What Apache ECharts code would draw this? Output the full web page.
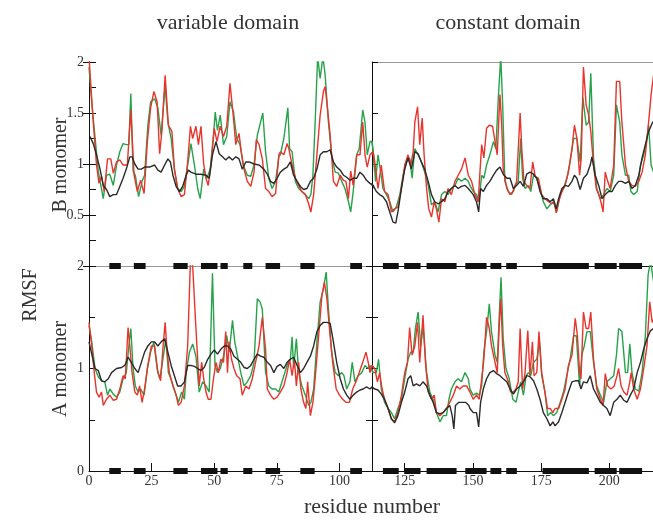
<!DOCTYPE html>
<html>
<head>
<meta charset="utf-8">
<script src="https://cdn.jsdelivr.net/npm/echarts@6/dist/echarts.min.js"></script>
<style>
  html, body { margin: 0; padding: 0; background: #fff; }
  #chart { width: 653px; height: 520px; }
</style>
</head>
<body>
<div id="chart"></div>
<script>
// RMSF per residue, [residue, value]; B monomer (top) and A monomer (bottom)
const bGreen = [
  [0,1.95],[1.1,1.6],[3.7,0.93],[5.7,0.66],[7.0,0.89],[8.3,0.90],[9.7,0.79],[11.0,0.99],[12.3,1.12],[13.6,1.20],[14.9,1.19],[15.9,1.19],
  [16.7,1.69],[17.6,0.93],[18.5,0.89],[19.8,0.68],[21.2,0.83],[22.2,0.89],[23.5,1.38],[24.6,1.61],[26.2,1.64],[27.5,1.55],[28.8,1.28],
  [30.4,1.77],[31.5,1.41],[32.8,1.25],[34.1,0.95],[35.4,0.76],[36.8,0.73],[38.1,0.78],[39.4,0.99],[40.7,1.20],[42.1,0.99],[43.4,0.76],
  [44.4,0.66],[45.8,0.95],[47.1,0.86],[48.4,0.95],[49.7,1.28],[50.4,1.51],[51.3,1.33],[52.4,1.48],[53.7,1.19],[55.0,1.27],[56.3,1.61],
  [57.7,1.51],[59.0,1.25],[60.3,1.19],[61.6,0.99],[63.2,0.89],[64.6,0.88],[65.9,0.99],[67.2,1.28],[68.5,1.41],[69.4,1.50],[70.5,1.12],
  [71.8,0.86],[73.1,0.76],[74.5,0.83],[75.8,1.07],[76.4,1.09],[77.8,1.25],[79.4,1.55],[80.1,1.15],[81.1,1.12],[82.4,0.83],[83.7,0.76],
  [85.0,0.73],[86.4,0.70],[87.7,0.66],[88.6,0.70],[89.4,0.89],[90.3,1.41],[91.3,2.05],[92.3,1.84],[93.4,2.05],[94.3,1.87],[95.6,1.41],
  [97.0,1.06],[98.3,0.92],[99.6,0.91],[100.9,0.83],[102.2,0.76],[103.6,0.63],[104.5,0.53],[105.5,0.73],[106.9,1.09],[107.9,1.15],
  [109.3,1.53],[110.2,1.41],[111.1,1.09],[112.2,1.22],[113.0,1.22],[113.6,1.09],[114.3,0.83],[115.2,1.09],[116.2,0.92],[117.0,0.76],
  [118.3,0.70],[119.5,0.63],[120.7,0.53],[121.9,0.58],[123.2,0.70],[124.4,0.89],[125.6,1.02],[126.8,1.06],[127.7,0.86],[128.7,1.15],
  [129.9,1.09],[131.1,1.02],[132.3,0.92],[133.6,0.79],[134.8,0.60],[136.0,0.63],[137.2,0.53],[138.5,0.70],[139.7,0.73],[140.9,0.70],
  [142.1,0.76],[143.4,0.79],[144.6,0.86],[145.8,0.83],[147.1,0.86],[148.3,0.83],[148.9,0.79],[150.1,0.73],[151.3,0.70],[152.2,0.63],
  [153.2,0.89],[154.0,0.86],[155.0,0.99],[156.2,1.09],[157.5,1.22],[158.4,1.15],[159.3,1.65],[160.2,2.05],[160.9,1.58],[161.7,0.83],
  [163.0,0.73],[164.2,0.70],[165.4,0.79],[166.6,0.83],[167.5,1.25],[168.2,0.86],[169.1,0.76],[170.3,0.79],[171.2,0.73],[172.2,0.89],
  [173.4,0.86],[174.6,0.76],[175.8,0.63],[177.1,0.56],[178.3,0.60],[179.5,0.63],[180.7,0.53],[182.0,0.70],[183.2,0.76],[184.4,0.86],
  [185.6,1.02],[186.9,1.25],[188.1,1.25],[189.3,1.02],[190.3,1.65],[191.5,1.38],[192.4,1.41],[193.2,1.89],[194.2,1.06],[195.4,0.76],
  [196.7,0.66],[197.9,0.70],[199.1,0.76],[200.3,0.73],[201.6,0.89],[202.6,1.58],[203.8,1.41],[204.6,1.09],[205.9,0.89],[207.1,0.89],
  [207.9,0.73],[208.9,0.70],[210.2,0.73],[211.4,0.99],[212.6,1.09],[213.6,1.22],[214.4,1.38],[215.3,0.99],[216.2,0.92]
];
const bRed = [
  [0,2.05],[1.7,1.41],[3.0,0.99],[4.0,0.81],[5.0,0.88],[6.1,0.73],[7.4,1.05],[8.7,1.05],[9.7,0.91],[11.0,1.02],[12.3,1.04],[13.6,0.99],
  [15.3,0.99],[16.7,1.53],[18.0,0.89],[19.3,0.73],[20.6,0.84],[22.0,0.71],[23.3,1.22],[24.6,1.55],[25.9,1.71],[27.2,1.61],[28.2,1.10],
  [29.1,1.32],[30.4,1.87],[31.7,1.38],[33.1,1.32],[34.1,0.95],[35.4,0.76],[36.8,0.68],[38.1,0.70],[39.4,1.02],[40.5,1.37],[41.4,1.25],
  [42.7,1.37],[43.7,1.19],[44.7,1.37],[45.8,1.0],[46.7,0.86],[47.6,0.79],[48.7,0.99],[50.0,1.35],[51.1,1.22],[52.4,1.37],[53.7,1.27],
  [55.0,1.37],[56.3,1.79],[57.7,1.45],[58.6,1.19],[59.9,1.30],[60.8,1.12],[61.9,0.95],[63.2,0.83],[64.6,0.78],[65.9,0.92],[66.8,1.24],
  [67.9,1.19],[69.2,1.05],[70.5,0.76],[71.8,0.73],[73.1,0.68],[74.5,0.71],[75.8,1.09],[76.4,1.12],[77.8,1.09],[79.1,1.20],[79.8,1.15],
  [81.1,0.99],[82.4,0.86],[83.7,0.79],[85.0,0.73],[86.4,0.70],[87.7,0.61],[88.6,0.53],[89.7,0.70],[91.0,1.09],[92.3,1.48],[93.6,1.71],
  [94.3,1.76],[95.2,1.55],[96.3,1.28],[97.6,0.83],[98.9,0.78],[100.3,0.89],[101.6,0.84],[102.6,0.83],[103.6,0.66],[104.5,0.93],
  [105.5,0.79],[106.9,1.09],[108.2,1.09],[109.3,1.41],[110.2,1.09],[111.1,0.97],[112.2,1.09],[113.4,1.12],[114.0,1.02],[115.2,0.76],
  [116.4,0.99],[117.6,0.73],[118.9,0.70],[120.1,0.53],[121.3,0.56],[122.5,0.58],[123.8,0.76],[125.0,0.99],[126.2,1.09],[127.2,0.99],
  [128.1,1.12],[128.7,1.41],[129.7,1.56],[130.5,1.19],[131.4,1.45],[132.1,1.09],[133.0,0.76],[133.8,0.56],[134.8,0.48],[135.8,0.63],
  [136.6,0.56],[137.5,0.43],[138.5,0.66],[139.7,0.63],[140.9,0.76],[142.1,0.70],[143.4,0.83],[144.6,0.89],[145.8,0.95],[147.1,1.06],
  [148.3,0.89],[149.5,0.83],[150.7,0.70],[151.9,0.63],[153.2,1.19],[154.0,1.06],[155.0,1.35],[156.0,1.38],[157.2,1.37],[158.1,1.22],
  [158.9,1.09],[159.9,1.68],[160.5,1.41],[161.1,0.95],[162.4,0.76],[163.6,0.70],[164.8,0.73],[166.0,0.83],[167.3,1.50],[167.9,1.15],
  [168.7,0.83],[169.7,0.79],[170.9,0.76],[171.9,1.02],[172.8,0.88],[174.0,0.86],[175.2,0.70],[176.4,0.66],[177.7,0.63],[178.9,0.61],
  [179.8,0.63],[180.5,0.52],[181.4,0.63],[182.6,0.73],[183.8,0.79],[185.0,0.92],[186.3,1.15],[187.2,1.38],[188.1,1.25],[189.1,0.89],
  [189.7,1.06],[190.5,1.95],[191.5,1.58],[192.4,1.48],[193.2,1.32],[194.2,0.99],[195.2,0.76],[196.1,0.70],[196.9,0.63],[197.7,0.53],
  [198.5,0.92],[199.4,0.83],[200.3,0.76],[201.6,0.99],[202.6,1.81],[203.8,1.81],[204.6,1.41],[205.9,0.99],[207.1,0.83],[208.3,0.79],
  [209.5,0.78],[210.8,0.83],[212.0,0.92],[213.2,1.09],[214.4,1.41],[215.3,1.68],[216.2,1.87]
];
const bBlack = [
  [0.4,1.27],[1.7,1.20],[3.0,1.09],[4.4,0.95],[5.7,0.79],[7.0,0.75],[8.3,0.68],[9.7,0.70],[11.0,0.70],[12.3,0.78],[13.6,0.86],[14.9,0.95],
  [16.3,1.07],[17.2,1.07],[18.3,1.0],[19.6,0.95],[20.9,0.95],[22.2,0.97],[24.2,0.97],[26.2,0.99],[27.5,0.94],[28.8,0.92],[30.2,0.99],
  [31.5,1.05],[32.5,1.02],[33.5,0.89],[34.8,0.78],[36.1,0.73],[37.4,0.78],[38.8,0.89],[39.7,0.94],[40.7,0.92],[42.7,0.90],[44.7,0.90],
  [46.7,0.89],[48.0,0.86],[49.3,1.09],[50.7,1.22],[52.0,1.10],[53.3,1.07],[54.6,1.04],[55.9,1.07],[57.3,1.04],[58.6,1.07],[59.9,1.05],
  [61.2,0.95],[62.6,1.02],[63.9,1.02],[65.9,1.0],[67.9,0.99],[69.8,0.95],[71.2,0.90],[72.5,0.83],[73.8,0.81],[75.1,0.86],[76.4,0.92],
  [77.8,0.95],[79.1,0.97],[80.4,1.02],[81.7,0.89],[83.1,0.83],[84.4,0.78],[85.7,0.75],[87.0,0.76],[88.4,0.83],[89.7,0.86],[91.0,0.95],
  [92.3,1.09],[93.6,1.12],[95.0,1.12],[96.3,1.14],[97.6,1.02],[98.9,0.97],[100.3,0.94],[101.6,0.89],[102.9,0.87],[104.2,0.84],
  [105.5,0.86],[106.9,0.86],[108.2,0.92],[109.5,0.89],[110.8,0.84],[112.2,0.81],[113.4,0.79],[114.6,0.73],[115.8,0.70],[117.0,0.68],
  [118.3,0.63],[119.5,0.53],[120.7,0.43],[121.7,0.42],[122.5,0.53],[123.8,0.76],[125.0,0.95],[126.2,1.06],[127.4,0.95],[128.7,1.12],
  [129.9,1.10],[131.1,1.02],[132.3,0.95],[133.6,0.83],[134.8,0.70],[136.0,0.63],[137.2,0.61],[138.5,0.63],[139.7,0.66],[140.9,0.73],
  [142.1,0.76],[143.4,0.79],[144.6,0.76],[145.8,0.78],[147.1,0.79],[148.3,0.76],[148.9,0.75],[150.1,0.70],[151.3,0.63],[152.1,0.53],
  [152.8,0.76],[153.8,0.73],[155.0,0.79],[156.2,0.83],[157.5,0.89],[158.7,0.94],[159.9,0.97],[161.1,0.90],[162.4,0.86],[163.6,0.86],
  [164.8,0.76],[166.0,0.79],[167.3,0.83],[168.5,0.78],[169.7,0.90],[170.9,0.92],[172.2,0.90],[173.4,0.86],[174.6,0.73],[175.8,0.66],
  [177.1,0.66],[178.3,0.63],[179.5,0.66],[180.5,0.56],[181.4,0.66],[182.6,0.76],[183.8,0.79],[185.0,0.78],[186.3,0.83],[187.2,0.89],
  [188.1,0.86],[189.3,0.75],[190.5,0.86],[191.8,0.90],[193.0,0.99],[193.6,1.07],[194.8,0.89],[196.1,0.79],[197.3,0.66],[198.5,0.70],
  [199.7,0.73],[201.0,0.73],[202.2,0.79],[203.4,0.83],[204.6,0.83],[205.9,0.81],[207.1,0.83],[208.3,0.76],[209.5,0.79],[210.8,0.89],
  [212.0,1.06],[213.2,1.19],[214.4,1.32],[215.7,1.40],[216.2,1.42]
];
const aGreen = [
  [0,1.42],[1.1,1.26],[2.4,1.0],[3.7,0.92],[5.0,0.88],[6.3,0.87],[7.4,0.74],[8.3,0.80],[9.7,0.75],[11.0,0.72],[12.3,0.77],[13.6,0.90],
  [14.9,0.96],[15.9,1.22],[16.7,1.39],[17.6,1.0],[18.5,0.83],[19.6,0.77],[20.6,0.80],[22.0,0.74],[23.3,1.0],[24.6,1.16],[25.9,1.26],
  [27.2,1.0],[28.3,0.90],[29.5,1.09],[30.7,1.29],[31.7,0.96],[33.1,0.87],[34.4,0.77],[35.7,0.67],[37.0,0.77],[38.1,0.70],[38.8,0.96],
  [40.1,1.16],[41.4,1.24],[42.7,1.12],[44.0,0.77],[45.4,0.87],[46.7,0.83],[48.0,0.77],[49.3,1.93],[50.3,1.03],[51.3,0.96],[52.4,1.0],
  [53.7,1.12],[55.0,1.32],[56.0,1.16],[57.3,1.47],[58.2,1.26],[59.3,1.12],[60.6,0.96],[61.9,0.83],[63.2,0.87],[64.6,0.93],[65.9,1.06],
  [67.2,1.68],[68.3,1.65],[69.2,1.58],[70.5,0.96],[71.8,0.83],[73.1,0.80],[74.5,0.80],[75.8,0.77],[77.8,0.93],[79.1,1.03],[80.4,1.09],
  [81.1,1.31],[81.7,1.0],[82.8,1.29],[83.7,0.96],[85.0,0.83],[86.4,0.74],[87.7,0.64],[88.6,0.67],[89.7,0.80],[91.0,1.26],[92.3,1.65],
  [93.6,1.78],[94.7,1.94],[95.6,1.58],[96.9,1.16],[98.3,0.96],[99.6,0.93],[100.9,0.96],[101.8,0.93],[102.9,0.80],[104.2,0.87],
  [105.1,1.06],[106.2,0.87],[107.5,0.93],[108.9,0.96],[110.2,1.03],[111.5,1.0],[112.2,1.03],[113.4,0.96],[114.6,0.96],[115.4,1.09],
  [116.4,0.80],[117.6,0.67],[118.9,0.61],[120.1,0.57],[121.3,0.51],[122.5,0.61],[123.8,0.70],[125.0,0.90],[126.2,1.09],[127.2,1.16],
  [128.1,1.16],[128.9,1.39],[129.9,1.55],[130.9,1.22],[131.7,1.42],[133.0,0.96],[134.2,0.77],[135.4,0.70],[136.6,0.57],[137.9,0.48],
  [139.1,0.54],[140.3,0.54],[141.2,0.70],[142.1,0.80],[143.4,0.87],[144.6,0.90],[145.8,0.87],[147.1,0.96],[148.3,0.90],[148.9,0.80],
  [150.1,0.74],[151.3,0.76],[152.3,0.74],[153.2,0.83],[154.0,1.16],[155.0,1.36],[156.0,1.63],[156.8,1.36],[158.1,1.13],[158.9,1.06],
  [159.7,1.55],[160.3,1.89],[161.1,1.29],[162.1,1.0],[163.3,0.90],[164.6,0.70],[165.8,0.67],[166.6,0.77],[167.5,0.87],[168.5,0.74],
  [169.5,0.93],[170.3,0.96],[171.2,0.93],[172.2,1.06],[173.4,1.09],[174.4,1.26],[175.2,0.93],[176.4,0.77],[177.4,0.54],[178.5,0.57],
  [179.5,0.54],[180.7,0.57],[182.0,0.67],[183.2,0.77],[184.4,0.93],[185.6,1.09],[186.9,1.32],[187.9,1.32],[189.1,0.83],[189.9,1.13],
  [190.8,1.22],[191.8,1.36],[193.0,1.36],[194.2,1.06],[195.4,0.83],[196.7,0.74],[197.9,0.67],[199.1,0.87],[200.3,0.90],[201.6,0.93],
  [202.6,1.13],[203.4,1.39],[204.6,1.36],[205.9,0.96],[206.7,0.96],[207.5,1.24],[208.3,0.96],[209.5,0.80],[210.8,0.78],[212.0,0.96],
  [213.2,1.32],[214.2,1.91],[215.1,2.05],[216.2,1.85]
];
const aRed = [
  [0,1.45],[1.1,1.22],[2.1,0.96],[3.0,0.77],[4.0,0.72],[5.0,0.77],[5.7,0.64],[7.0,0.70],[8.3,0.74],[9.7,0.69],[11.0,0.70],[12.3,0.80],
  [13.6,0.93],[14.5,0.90],[15.6,1.40],[16.3,1.22],[17.2,0.96],[18.3,0.77],[19.3,0.74],[20.2,0.83],[21.2,0.67],[22.2,0.80],[23.5,1.03],
  [24.9,1.22],[26.2,1.22],[27.5,0.96],[28.6,0.88],[29.5,1.19],[30.4,1.45],[31.2,1.16],[32.1,0.96],[33.5,0.83],[34.8,0.74],[35.7,0.64],
  [36.8,0.67],[38.1,0.83],[39.4,1.22],[40.5,2.05],[41.4,2.0],[42.7,1.39],[44.0,0.83],[45.0,1.06],[45.8,0.90],[46.7,0.77],[47.6,0.70],
  [48.7,0.70],[49.7,0.90],[50.7,1.06],[51.7,0.96],[52.6,1.09],[53.7,1.06],[54.6,1.36],[55.3,0.96],[55.9,1.26],[56.9,1.09],[57.9,1.0],
  [59.0,0.93],[60.3,0.90],[61.2,0.74],[62.6,0.83],[63.9,0.80],[65.2,0.90],[66.5,1.06],[67.9,1.22],[69.2,1.50],[70.5,1.19],[71.2,0.80],
  [72.5,0.74],[73.8,0.70],[75.1,0.72],[76.4,0.77],[77.8,0.83],[79.1,0.96],[80.1,1.09],[81.1,0.93],[82.0,1.09],[82.8,0.83],[83.7,1.06],
  [84.6,0.80],[85.7,0.67],[86.6,0.61],[87.3,0.87],[88.4,0.54],[89.4,0.67],[90.3,0.90],[91.7,1.32],[93.0,1.71],[94.0,1.84],[95.0,1.68],
  [96.0,1.39],[97.3,1.06],[98.7,0.80],[100.0,0.74],[101.3,0.70],[102.6,0.67],[104.0,0.67],[105.3,0.80],[106.6,0.87],[107.9,0.96],
  [109.3,1.06],[110.6,1.16],[111.5,1.06],[112.2,0.96],[113.0,1.03],[114.0,1.0],[115.0,0.87],[115.8,0.96],[116.7,0.80],[117.6,0.70],
  [118.9,0.61],[120.1,0.51],[121.3,0.48],[122.5,0.57],[123.8,0.74],[125.0,0.96],[126.0,1.06],[126.8,1.40],[127.7,1.13],[128.7,1.22],
  [129.7,1.45],[130.5,1.06],[131.7,1.52],[132.6,1.06],[133.6,0.77],[134.8,0.70],[135.8,0.74],[136.6,0.57],[137.9,0.54],[139.1,0.57],
  [140.3,0.61],[141.5,0.67],[142.8,0.74],[144.0,0.83],[145.2,0.80],[146.4,0.83],[147.7,0.83],[148.9,0.77],[150.1,0.70],[151.3,0.74],
  [152.3,0.70],[153.2,0.90],[154.0,1.09],[155.0,1.50],[156.0,1.39],[156.8,1.22],[158.1,1.06],[158.9,0.96],[159.7,1.45],[160.2,1.68],
  [160.9,1.22],[161.7,0.96],[163.0,0.87],[163.8,0.77],[164.8,0.77],[165.8,0.80],[166.6,0.87],[167.3,1.39],[168.2,0.80],[169.1,0.96],
  [170.1,1.37],[170.9,0.93],[171.8,1.26],[172.4,0.93],[173.4,0.96],[174.2,1.36],[175.2,0.96],[176.4,0.77],[177.3,0.61],[178.3,0.61],
  [179.3,0.57],[180.1,0.61],[181.4,0.61],[182.6,0.70],[183.8,0.80],[185.0,1.03],[186.3,1.13],[187.5,1.49],[188.3,1.32],[189.1,0.96],
  [189.6,0.90],[190.5,1.55],[191.5,1.39],[192.4,1.39],[193.2,1.55],[194.2,1.09],[195.4,0.80],[196.7,0.70],[197.7,0.64],[198.5,0.95],
  [199.4,0.83],[200.6,0.80],[201.8,0.83],[202.8,0.93],[203.4,1.0],[204.3,0.83],[205.3,0.77],[206.5,0.74],[207.5,0.87],[208.0,0.96],
  [208.9,0.80],[210.2,0.70],[211.4,0.80],[212.6,1.0],[213.8,1.22],[214.8,1.65],[215.7,1.45],[216.2,1.48]
];
const aBlack = [
  [0,1.26],[1.1,1.14],[2.4,1.0],[3.7,0.98],[5.0,0.88],[6.3,0.87],[7.7,0.90],[9.0,0.96],[11.0,1.0],[13.0,1.01],[14.3,1.03],[15.6,1.11],
  [16.9,1.06],[18.3,1.0],[19.6,0.96],[20.9,1.06],[22.2,1.16],[23.5,1.22],[24.9,1.26],[26.2,1.26],[27.5,1.22],[28.8,1.26],[30.2,1.29],
  [31.5,1.16],[32.8,1.03],[34.1,0.93],[35.4,0.83],[36.8,0.83],[38.1,0.87],[39.4,1.03],[40.7,1.03],[42.1,1.02],[43.4,1.0],[44.7,0.98],
  [46.0,1.01],[47.4,1.09],[48.7,1.14],[50.0,1.18],[51.3,1.14],[52.7,1.19],[54.0,1.22],[55.3,1.22],[56.6,1.19],[57.9,1.12],[59.3,1.09],
  [60.6,1.06],[61.9,1.01],[63.2,1.0],[64.6,1.03],[65.9,1.09],[67.2,1.14],[68.5,1.12],[69.8,1.11],[71.2,1.06],[72.5,1.03],[73.8,0.96],
  [75.1,1.02],[76.4,1.04],[77.8,1.0],[79.1,1.06],[80.4,1.09],[81.7,1.11],[83.1,1.03],[84.4,0.96],[85.7,1.0],[87.0,1.06],[88.4,1.12],
  [89.7,1.22],[91.0,1.36],[92.3,1.42],[93.6,1.45],[95.0,1.45],[96.3,1.44],[97.6,1.26],[98.9,1.06],[100.3,0.90],[101.6,0.80],
  [102.9,0.74],[104.2,0.70],[105.5,0.74],[106.9,0.77],[108.2,0.79],[109.5,0.80],[110.8,0.82],[112.2,0.80],[113.0,0.82],[114.0,0.80],
  [115.2,0.79],[116.4,0.75],[117.6,0.70],[118.9,0.61],[120.1,0.51],[121.3,0.47],[122.5,0.54],[123.8,0.67],[125.0,0.77],[126.2,0.90],
  [127.2,0.93],[128.1,0.83],[129.3,0.85],[130.5,0.83],[131.7,0.87],[133.0,0.83],[134.2,0.74],[135.4,0.67],[136.6,0.57],[137.9,0.56],
  [139.1,0.57],[140.3,0.61],[141.5,0.64],[142.4,0.54],[143.0,0.41],[143.6,0.64],[144.8,0.67],[146.1,0.67],[147.3,0.67],[148.5,0.64],
  [148.9,0.61],[150.1,0.57],[151.3,0.57],[152.1,0.43],[152.8,0.67],[153.8,0.80],[155.0,0.90],[156.2,0.96],[157.5,0.98],[158.7,0.95],
  [159.9,0.93],[161.1,0.90],[162.4,0.87],[163.6,0.80],[164.8,0.75],[166.0,0.80],[167.3,0.83],[168.5,0.87],[169.7,0.93],[170.9,0.92],
  [172.2,0.88],[173.4,0.80],[174.6,0.70],[175.8,0.57],[177.1,0.51],[178.3,0.44],[179.3,0.48],[180.1,0.44],[181.4,0.48],[182.6,0.57],
  [183.8,0.67],[185.0,0.77],[186.3,0.87],[187.5,0.88],[188.7,0.88],[189.6,0.80],[190.5,0.87],[191.8,0.86],[193.0,0.93],[194.2,0.80],
  [195.4,0.74],[196.7,0.67],[197.9,0.64],[199.1,0.61],[200.3,0.54],[201.6,0.67],[202.8,0.70],[204.0,0.74],[205.3,0.69],[206.5,0.67],
  [207.7,0.74],[208.9,0.80],[210.2,0.96],[211.4,1.06],[212.6,1.19],[213.8,1.29],[215.1,1.37],[216.2,1.39]
];
// secondary structure segments [start, end] (drawn on the zero line of both panels)
const ssSegments = [
  [8.1,12.7],[17.9,22.6],[33.7,39.4],[44.7,51.3],[52.5,55.4],[61.6,65.2],[70.5,76.3],[84.4,90.1],[104.3,109],
  [117,122.8],[124.8,130.8],[133,144],[147.2,155],[156.4,160.4],[162.2,166.1],[175.5,192.5],[194.6,202.7],[203.6,212]
];
const leftTicks = [0, 25, 50, 75, 100];
const rightTicks = [125, 150, 175, 200];
const domainSplit = 113;
const domainEnd = 216;

const FONT = "'Liberation Serif', 'Times New Roman', serif";
const GREEN = '#27a24b';
const RED = '#e8342c';
const BLACK = '#2a2a2a';

const chart = echarts.init(document.getElementById('chart'), null, { renderer: 'canvas' });

const grids = [
  { left: 89, top: 62, width: 283, height: 204 },
  { left: 372, top: 62, width: 281, height: 204 },
  { left: 89, top: 266, width: 283, height: 205 },
  { left: 372, top: 266, width: 281, height: 205 }
];

function xAx(grid, min, max, opts) {
  return Object.assign({
    type: 'value', gridIndex: grid, min: min, max: max,
    axisLine: { show: true, lineStyle: { color: '#111', width: 1 } },
    axisTick: { show: false }, axisLabel: { show: false }, splitLine: { show: false }
  }, opts || {});
}

function yAx(grid, pos, opts) {
  return Object.assign({
    type: 'value', gridIndex: grid, min: 0, max: 2, interval: 0.5, position: pos,
    axisLine: { show: true, lineStyle: { color: '#111', width: 1 } },
    axisTick: { show: true, inside: true, length: 6, lineStyle: { color: '#111' } },
    axisLabel: { show: false }, splitLine: { show: false }
  }, opts || {});
}

const labelStyle = { fontFamily: FONT, fontSize: 14, color: '#333' };

const xAxis = [
  xAx(0, 0, domainSplit),
  xAx(1, domainSplit, domainEnd),
  xAx(2, 0, domainSplit, {
    axisTick: { show: true, inside: true, length: 8, customValues: leftTicks.slice(1), lineStyle: { color: '#111' } },
    axisLabel: Object.assign({ show: true, margin: 3, customValues: leftTicks }, labelStyle)
  }),
  xAx(3, domainSplit, domainEnd, {
    axisTick: { show: true, inside: true, length: 8, customValues: rightTicks, lineStyle: { color: '#111' } },
    axisLabel: Object.assign({ show: true, margin: 3, customValues: rightTicks }, labelStyle)
  }),
  xAx(0, 0, domainSplit, { position: 'top', axisLine: { show: true, lineStyle: { color: '#999', width: 1 } } }),
  xAx(1, domainSplit, domainEnd, { position: 'top', axisLine: { show: true, lineStyle: { color: '#999', width: 1 } } })
];

const yAxis = [
  yAx(0, 'left', {
    interval: 0.25,
    axisTick: { show: true, inside: true, length: 7, lineStyle: { color: '#111' } },
    axisLabel: Object.assign({
      show: true, margin: 5,
      formatter: v => (v > 0 && Math.abs(v * 2 - Math.round(v * 2)) < 1e-6) ? String(+v.toFixed(2)) : ''
    }, labelStyle)
  }),
  yAx(0, 'right'),
  yAx(1, 'left'),
  yAx(2, 'left', {
    axisLabel: Object.assign({
      show: true, margin: 5,
      formatter: v => Math.abs(v - Math.round(v)) < 1e-6 ? String(Math.round(v)) : ''
    }, labelStyle)
  }),
  yAx(2, 'right'),
  yAx(3, 'left')
];

// y axis index used for each grid's data
const yIdx = [0, 2, 3, 5];

function lineSeries(grid, data, color, z) {
  return {
    type: 'line', xAxisIndex: grid, yAxisIndex: yIdx[grid], data: data,
    showSymbol: false, symbol: 'none', clip: true, z: z,
    lineStyle: { color: color, width: 1.4 }, emphasis: { disabled: true }
  };
}

function barSeries(grid, segs) {
  return {
    type: 'custom', xAxisIndex: grid, yAxisIndex: yIdx[grid], z: 10,
    data: segs.map(s => [s[0], s[1], 0]),
    encode: { x: [0, 1], y: 2 },
    renderItem: function (params, api) {
      const s = api.coord([api.value(0), 0]);
      const e = api.coord([api.value(1), 0]);
      return { type: 'rect', shape: { x: s[0], y: s[1] - 3, width: e[0] - s[0], height: 6 }, style: { fill: '#111' } };
    }
  };
}

const leftSegs = ssSegments.filter(s => s[1] <= domainSplit);
const rightSegs = ssSegments.filter(s => s[0] >= domainSplit);

const series = [];
[[0, bGreen, bRed, bBlack], [1, bGreen, bRed, bBlack], [2, aGreen, aRed, aBlack], [3, aGreen, aRed, aBlack]].forEach(p => {
  series.push(lineSeries(p[0], p[1], GREEN, 2));
  series.push(lineSeries(p[0], p[2], RED, 3));
  series.push(lineSeries(p[0], p[3], BLACK, 4));
  series.push(barSeries(p[0], p[0] % 2 === 0 ? leftSegs : rightSegs));
});

const textStyle = { fontFamily: FONT, fontSize: 22, fill: '#333', textAlign: 'center', textVerticalAlign: 'middle' };
const sideStyle = Object.assign({}, textStyle, { fontSize: 20 });

chart.setOption({
  animation: false,
  backgroundColor: '#fff',
  grid: grids,
  xAxis: xAxis,
  yAxis: yAxis,
  series: series,
  graphic: [
    { type: 'text', x: 228, y: 23, style: Object.assign({ text: 'variable domain' }, textStyle) },
    { type: 'text', x: 508, y: 23, style: Object.assign({ text: 'constant domain' }, textStyle) },
    { type: 'text', x: 31, y: 295, rotation: Math.PI / 2, style: Object.assign({ text: 'RMSF' }, sideStyle) },
    { type: 'text', x: 61, y: 165, rotation: Math.PI / 2, style: Object.assign({ text: 'B monomer' }, sideStyle) },
    { type: 'text', x: 61, y: 369, rotation: Math.PI / 2, style: Object.assign({ text: 'A monomer' }, sideStyle) },
    { type: 'text', x: 372, y: 507, style: Object.assign({ text: 'residue number' }, textStyle) }
  ]
});
</script>
</body>
</html>
